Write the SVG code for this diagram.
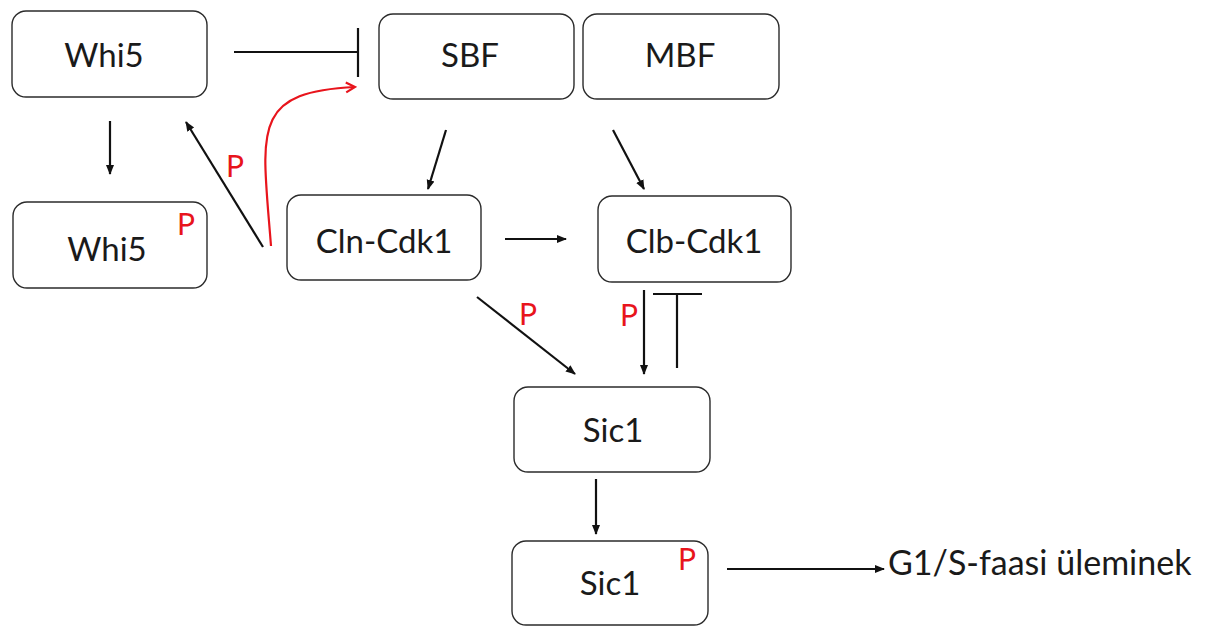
<svg xmlns="http://www.w3.org/2000/svg" width="1211" height="626" viewBox="0 0 1211 626">
<style>
.box{fill:#fff;stroke:#2b2b2b;stroke-width:1.4}
.t{font-family:Lato,"Open Sans",sans-serif;font-size:33px;fill:#1a1a1a;text-anchor:middle}
.p{font-family:Lato,"Open Sans",sans-serif;font-size:30px;fill:#e8141c;text-anchor:middle}
.ln{stroke:#111;stroke-width:2.2;fill:none}
.red{stroke:#e8141c;stroke-width:2.2;fill:none}
</style>
<defs>
<marker id="ah" markerUnits="userSpaceOnUse" markerWidth="10" markerHeight="10" viewBox="0 0 10 10" refX="9" refY="5" orient="auto">
<path d="M0,1 L10,5 L0,9 Z" fill="#111"/>
</marker>
<marker id="rh" markerUnits="userSpaceOnUse" markerWidth="14" markerHeight="14" viewBox="0 0 14 14" refX="12" refY="7" orient="auto">
<path d="M3,2 L12,7 L3,12" fill="none" stroke="#e8141c" stroke-width="2.2"/>
</marker>
</defs>
<rect width="1211" height="626" fill="#fff"/>
<g id="whi5"><rect class="box" x="12" y="11" width="195" height="86" rx="14"/><text class="t" x="104" y="67">Whi5</text></g>
<g id="whi5p"><rect class="box" x="13" y="202" width="194" height="86" rx="14"/><text class="t" x="107" y="261">Whi5</text><text class="p" x="186" y="235">P</text></g>
<g id="sbf"><rect class="box" x="379" y="14" width="195" height="85" rx="14"/><text class="t" x="470" y="67">SBF</text></g>
<g id="mbf"><rect class="box" x="583" y="14" width="196" height="85" rx="14"/><text class="t" x="680" y="67">MBF</text></g>
<g id="cln"><rect class="box" x="287" y="195" width="194" height="85" rx="14"/><text class="t" x="384" y="253">Cln-Cdk1</text></g>
<g id="clb"><rect class="box" x="598" y="196" width="193" height="86" rx="14"/><text class="t" x="694" y="253">Clb-Cdk1</text></g>
<g id="sic1"><rect class="box" x="514" y="387" width="196" height="85" rx="14"/><text class="t" x="613" y="442">Sic1</text></g>
<g id="sic1p"><rect class="box" x="512" y="541" width="196" height="84" rx="14"/><text class="t" x="610" y="595">Sic1</text><text class="p" x="687" y="570">P</text></g>
<g id="g1s"><text class="t" x="888" y="575" style="text-anchor:start;font-size:34px">G1/S-faasi üleminek</text></g>
<g id="connectors">
<line class="ln" x1="234" y1="52" x2="358" y2="52"/>
<line class="ln" x1="358" y1="28" x2="358" y2="77"/>
<line class="ln" x1="110" y1="121" x2="110" y2="174" marker-end="url(#ah)"/>
<line class="ln" x1="263" y1="247" x2="186" y2="122" marker-end="url(#ah)"/>
<text class="p" x="235" y="177">P</text>
<path class="red" d="M271,246 C262,130 250,92 355,87" marker-end="url(#rh)"/>
<line class="ln" x1="446" y1="130" x2="428" y2="189" marker-end="url(#ah)"/>
<line class="ln" x1="613" y1="130" x2="644" y2="189" marker-end="url(#ah)"/>
<line class="ln" x1="505" y1="239" x2="566" y2="239" marker-end="url(#ah)"/>
<line class="ln" x1="477" y1="297" x2="575" y2="374" marker-end="url(#ah)"/>
<text class="p" x="528" y="325">P</text>
<line class="ln" x1="644" y1="290" x2="644" y2="374" marker-end="url(#ah)"/>
<text class="p" x="629" y="326">P</text>
<line class="ln" x1="677" y1="368" x2="677" y2="294"/>
<line class="ln" x1="653" y1="294" x2="702" y2="294"/>
<line class="ln" x1="596" y1="479" x2="596" y2="534" marker-end="url(#ah)"/>
<line class="ln" x1="727" y1="569" x2="884" y2="569" marker-end="url(#ah)"/>
</g>
</svg>
